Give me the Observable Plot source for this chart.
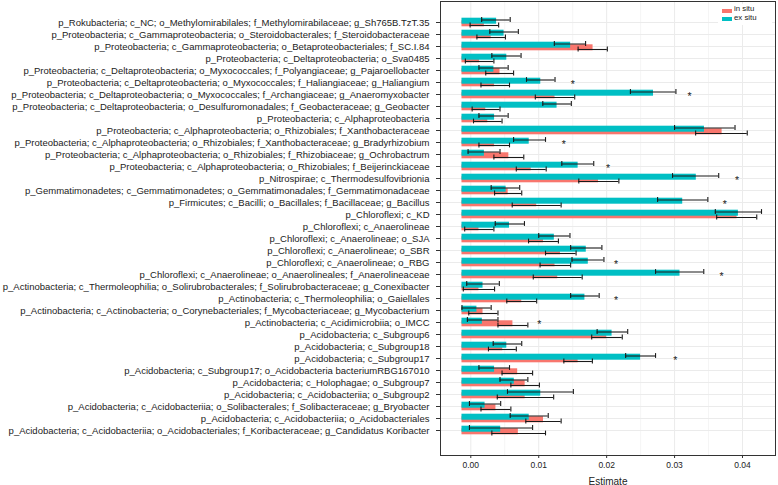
<!DOCTYPE html>
<html><head><meta charset="utf-8">
<script src="https://cdn.jsdelivr.net/npm/d3@7"></script>
<script src="https://cdn.jsdelivr.net/npm/@observablehq/plot@0.6"></script>
<style>
body{margin:0;background:#fff;font-family:"Liberation Sans",Arial,sans-serif;}
#wrap{position:relative;width:778px;height:485px;}
#legend{position:absolute;left:718px;top:4px;width:54px;height:21px;background:#fff;font-size:7.8px;color:#222;}
#legend .sw{position:absolute;left:4px;width:10px;height:4px;}
#legend .lb{position:absolute;left:16px;display:block;height:8.7px;line-height:8.7px;white-space:nowrap;}
</style></head><body>
<div id="wrap"><div id="chart"></div>
<div id="legend">
  <span class="sw" style="top:5px;background:#F8766D"></span><span class="lb" style="top:1.4px">in situ</span>
  <span class="sw" style="top:12.7px;background:#00BFC4"></span><span class="lb" style="top:10.3px">ex situ</span>
</div></div>
<script>
const taxa = [
"p_Rokubacteria; c_NC; o_Methylomirabilales; f_Methylomirabilaceae; g_Sh765B.TzT.35",
"p_Proteobacteria; c_Gammaproteobacteria; o_Steroidobacterales; f_Steroidobacteraceae",
"p_Proteobacteria; c_Gammaproteobacteria; o_Betaproteobacteriales; f_SC.I.84",
"p_Proteobacteria; c_Deltaproteobacteria; o_Sva0485",
"p_Proteobacteria; c_Deltaproteobacteria; o_Myxococcales; f_Polyangiaceae; g_Pajaroellobacter",
"p_Proteobacteria; c_Deltaproteobacteria; o_Myxococcales; f_Haliangiaceae; g_Haliangium",
"p_Proteobacteria; c_Deltaproteobacteria; o_Myxococcales; f_Archangiaceae; g_Anaeromyxobacter",
"p_Proteobacteria; c_Deltaproteobacteria; o_Desulfuromonadales; f_Geobacteraceae; g_Geobacter",
"p_Proteobacteria; c_Alphaproteobacteria",
"p_Proteobacteria; c_Alphaproteobacteria; o_Rhizobiales; f_Xanthobacteraceae",
"p_Proteobacteria; c_Alphaproteobacteria; o_Rhizobiales; f_Xanthobacteraceae; g_Bradyrhizobium",
"p_Proteobacteria; c_Alphaproteobacteria; o_Rhizobiales; f_Rhizobiaceae; g_Ochrobactrum",
"p_Proteobacteria; c_Alphaproteobacteria; o_Rhizobiales; f_Beijerinckiaceae",
"p_Nitrospirae; c_Thermodesulfovibrionia",
"p_Gemmatimonadetes; c_Gemmatimonadetes; o_Gemmatimonadales; f_Gemmatimonadaceae",
"p_Firmicutes; c_Bacilli; o_Bacillales; f_Bacillaceae; g_Bacillus",
"p_Chloroflexi; c_KD",
"p_Chloroflexi; c_Anaerolineae",
"p_Chloroflexi; c_Anaerolineae; o_SJA",
"p_Chloroflexi; c_Anaerolineae; o_SBR",
"p_Chloroflexi; c_Anaerolineae; o_RBG",
"p_Chloroflexi; c_Anaerolineae; o_Anaerolineales; f_Anaerolineaceae",
"p_Actinobacteria; c_Thermoleophilia; o_Solirubrobacterales; f_Solirubrobacteraceae; g_Conexibacter",
"p_Actinobacteria; c_Thermoleophilia; o_Gaiellales",
"p_Actinobacteria; c_Actinobacteria; o_Corynebacteriales; f_Mycobacteriaceae; g_Mycobacterium",
"p_Actinobacteria; c_Acidimicrobiia; o_IMCC",
"p_Acidobacteria; c_Subgroup6",
"p_Acidobacteria; c_Subgroup18",
"p_Acidobacteria; c_Subgroup17",
"p_Acidobacteria; c_Subgroup17; o_Acidobacteria bacteriumRBG167010",
"p_Acidobacteria; c_Holophagae; o_Subgroup7",
"p_Acidobacteria; c_Acidobacteriia; o_Subgroup2",
"p_Acidobacteria; c_Acidobacteriia; o_Solibacterales; f_Solibacteraceae; g_Bryobacter",
"p_Acidobacteria; c_Acidobacteriia; o_Acidobacteriales",
"p_Acidobacteria; c_Acidobacteriia; o_Acidobacteriales; f_Koribacteraceae; g_Candidatus Koribacter"
];
const groups = ["in situ", "ex situ"];
const exEst = [0.0038,0.0049,0.0147,0.0053,0.0034,0.0103,0.0269,0.0127,0.0035,0.0344,0.0086,0.0020,0.0158,0.0332,0.0052,0.0312,0.0394,0.0057,0.0123,0.0170,0.0173,0.0308,0.0018,0.0168,0.0009,0.0017,0.0208,0.0053,0.0250,0.0035,0.0064,0.0103,0.0021,0.0086,0.0044];
const exLo  = [0.0016,0.0028,0.0123,0.0031,0.0012,0.0082,0.0235,0.0106,0.0012,0.0300,0.0063,-0.0004,0.0134,0.0297,0.0030,0.0275,0.0360,0.0036,0.0100,0.0147,0.0149,0.0272,-0.0006,0.0147,-0.0013,-0.0005,0.0186,0.0033,0.0228,0.0012,0.0043,0.0054,-0.0002,0.0058,-0.0002];
const exHi  = [0.0058,0.0070,0.0169,0.0074,0.0055,0.0124,0.0302,0.0148,0.0055,0.0389,0.0110,0.0043,0.0181,0.0365,0.0072,0.0349,0.0428,0.0079,0.0146,0.0193,0.0196,0.0343,0.0042,0.0189,0.0030,0.0040,0.0231,0.0075,0.0272,0.0057,0.0084,0.0151,0.0044,0.0114,0.0091];
const inEst = [0.0020,0.0030,0.0180,0.0013,0.0043,0.0035,0.0124,0.0022,0.0025,0.0370,0.0035,0.0056,0.0089,0.0188,0.0055,0.0097,0.0392,0.0012,0.0107,0.0132,0.0124,0.0128,0.0012,0.0075,0.0018,0.0062,0.0200,0.0047,0.0158,0.0069,0.0080,0.0080,0.0037,0.0107,0.0070];
const inLo  = [-0.0001,0.0009,0.0158,-0.0008,0.0022,0.0015,0.0095,0.0002,0.0004,0.0331,0.0012,0.0034,0.0067,0.0159,0.0035,0.0061,0.0362,-0.0009,0.0085,0.0110,0.0102,0.0092,-0.0011,0.0053,-0.0003,0.0040,0.0178,0.0026,0.0137,0.0046,0.0059,0.0039,0.0015,0.0081,0.0031];
const inHi  = [0.0041,0.0051,0.0201,0.0034,0.0063,0.0057,0.0153,0.0043,0.0046,0.0407,0.0057,0.0078,0.0111,0.0218,0.0075,0.0133,0.0421,0.0034,0.0129,0.0155,0.0147,0.0164,0.0035,0.0097,0.0040,0.0084,0.0223,0.0067,0.0179,0.0091,0.0101,0.0122,0.0059,0.0133,0.0110];
// significance marks: row index and x position
const starRow = [5, 6, 10, 12, 13, 15, 20, 21, 23, 25, 28];
const starX   = [0.0150, 0.0322, 0.0137, 0.0202, 0.0392, 0.0374, 0.0214, 0.0369, 0.0214, 0.0101, 0.0301];
const xTicks = [0, 0.01, 0.02, 0.03, 0.04];
const xMinor = [0.005, 0.015, 0.025, 0.035];
const barBase = -0.0013;

const colors = {"in situ": "#F8766D", "ex situ": "#00BFC4"};
const inRows = taxa.map((t, i) => ({taxon: t, group: groups[0], est: inEst[i], lo: inLo[i], hi: inHi[i]}));
const exRows = taxa.map((t, i) => ({taxon: t, group: groups[1], est: exEst[i], lo: exLo[i], hi: exHi[i]}));
const stars = starRow.map((r, k) => ({taxon: taxa[r], x: starX[k]}));

const ebar = "#1a1a1a";
const inDy = 3, exDy = -2.5;
const plot = Plot.plot({
  width: 778, height: 485,
  marginLeft: 440, marginRight: 3, marginTop: 1, marginBottom: 30,
  style: {fontFamily: "'Liberation Sans', Arial, sans-serif", fontSize: "9.5px", background: "#fff", color: "#222"},
  x: {domain: [-0.004461, 0.04486], label: "Estimate"},
  y: {type: "band", domain: taxa, range: [6.75, 444.25], paddingInner: 0.52, paddingOuter: 0.26, align: 0.5, label: null},
  marks: [
    Plot.gridX(xMinor, {stroke: "#eeeeee", strokeOpacity: 1, strokeWidth: 0.6}),
    Plot.gridX(xTicks, {stroke: "#ebebeb", strokeOpacity: 1, strokeWidth: 1}),
    Plot.gridY(taxa, {stroke: "#ebebeb", strokeOpacity: 1, strokeWidth: 1}),
    Plot.barX(inRows, {y: "taxon", x1: () => barBase, x2: "est", fill: colors["in situ"], dy: 1.3}),
    Plot.barX(exRows, {y: "taxon", x1: () => barBase, x2: "est", fill: colors["ex situ"], dy: -1.3}),
    Plot.ruleY(inRows, {y: "taxon", x1: "lo", x2: "hi", stroke: ebar, strokeWidth: 1.1, dy: inDy}),
    Plot.tickX(inRows, {y: "taxon", x: "lo", stroke: ebar, strokeWidth: 1.1, dy: inDy, insetTop: 0.6, insetBottom: 0.6}),
    Plot.tickX(inRows, {y: "taxon", x: "hi", stroke: ebar, strokeWidth: 1.1, dy: inDy, insetTop: 0.6, insetBottom: 0.6}),
    Plot.ruleY(exRows, {y: "taxon", x1: "lo", x2: "hi", stroke: ebar, strokeWidth: 1.1, dy: exDy}),
    Plot.tickX(exRows, {y: "taxon", x: "lo", stroke: ebar, strokeWidth: 1.1, dy: exDy, insetTop: 0.6, insetBottom: 0.6}),
    Plot.tickX(exRows, {y: "taxon", x: "hi", stroke: ebar, strokeWidth: 1.1, dy: exDy, insetTop: 0.6, insetBottom: 0.6}),
    Plot.text(stars, {x: "x", y: "taxon", text: () => "*", fontSize: 10.5, fill: "#222", dy: 2.5}),
    Plot.frame({stroke: "#333", strokeWidth: 1}),
    Plot.axisY({tickSize: 4, tickPadding: 7, fontSize: 9.5, stroke: "#333", fill: "#222", label: null}),
    Plot.axisX({ticks: xTicks, tickFormat: d3.format(".2f"), tickSize: 3, tickPadding: 3, fontSize: 8.5, stroke: "#333", fill: "#222", label: null}),
    Plot.axisX({ticks: [], fontSize: 10, fill: "#222", label: "Estimate", labelAnchor: "center", labelArrow: "none", labelOffset: 29})
  ]
});
document.getElementById("chart").appendChild(plot);
</script>
</body></html>
